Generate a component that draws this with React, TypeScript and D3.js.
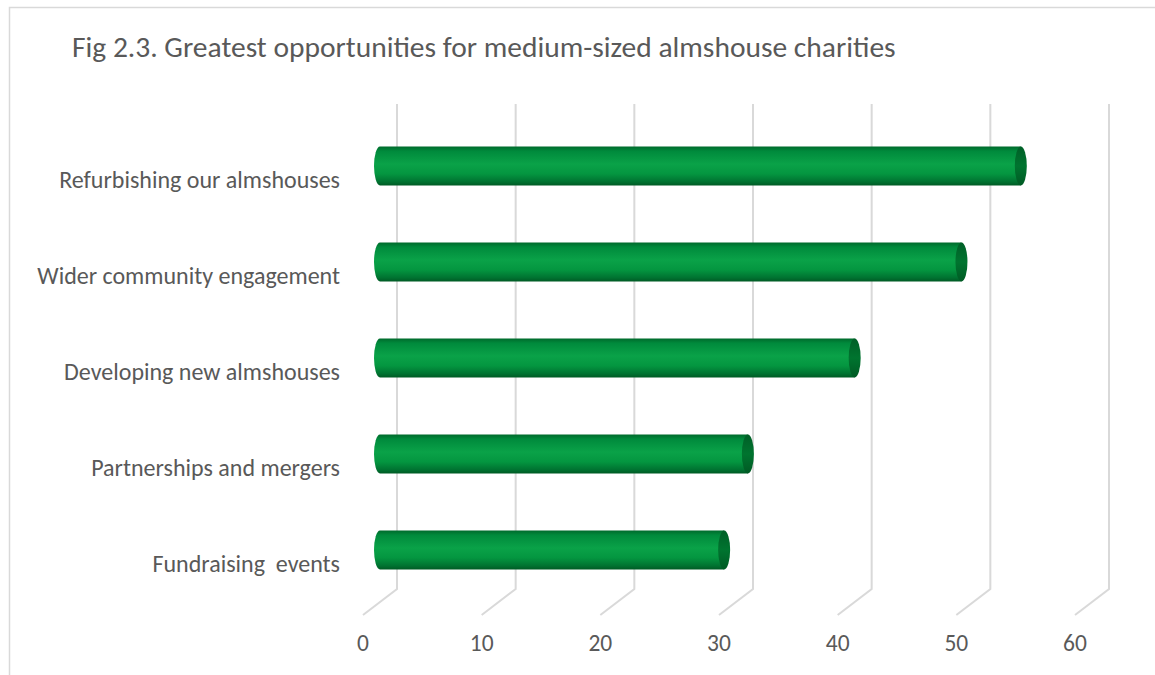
import React from "react";
import * as d3 from "d3";

const categories = [
  "Refurbishing our almshouses",
  "Wider community engagement",
  "Developing new almshouses",
  "Partnerships and mergers",
  "Fundraising  events",
];
const values = [54, 49, 40, 31, 29];
const ticks = [0, 10, 20, 30, 40, 50, 60];
const title = "Fig 2.3. Greatest opportunities for medium-sized almshouse charities";

const W = 1155;
const H = 675;
const FONT = "Carlito, Calibri, 'Open Sans', 'Liberation Sans', sans-serif";
const TEXT = "#595959";

export default function App() {
  // back plane x scale
  const x = d3.scaleLinear().domain([0, 60]).range([397, 1109]);
  const depthDx = -34;
  const depthDy = 26;
  const gridTop = 104;
  const gridBottom = 589;
  const y = d3.scaleBand().domain(categories).range([118, 598]).paddingInner(0.6).paddingOuter(0.3);
  const barH = 39;
  const rx = 6;
  const midDx = depthDx / 2;

  return (
    <svg
      width={W}
      height={H}
      style={{ position: "absolute", left: 0, top: 0, background: "#fff" }}
    >
      <defs>
        <linearGradient id="cyl" x1="0" y1="0" x2="0" y2="1">
          <stop offset="0" stopColor="#006a2c" />
          <stop offset="0.12" stopColor="#008a3c" />
          <stop offset="0.45" stopColor="#0aa248" />
          <stop offset="0.7" stopColor="#049640" />
          <stop offset="0.9" stopColor="#007331" />
          <stop offset="1" stopColor="#005a24" />
        </linearGradient>
        <linearGradient id="cap" x1="0" y1="0" x2="0" y2="1">
          <stop offset="0" stopColor="#005f27" />
          <stop offset="0.5" stopColor="#00742f" />
          <stop offset="1" stopColor="#005a24" />
        </linearGradient>
      </defs>
      <rect x={9.5} y={7.5} width={1200} height={700} fill="#fff" stroke="#d9d9d9" strokeWidth={1.5} />
      <text x={72} y={57} fill={TEXT} fontFamily={FONT} fontSize={29.5}>
        {title}
      </text>
      {/* gridlines */}
      {ticks.map((t) => (
        <path
          key={"g" + t}
          d={`M${x(t)},${gridTop} L${x(t)},${gridBottom} L${x(t) + depthDx},${gridBottom + depthDy}`}
          fill="none"
          stroke="#d9d9d9"
          strokeWidth={2}
        />
      ))}
      {/* tick labels */}
      {ticks.map((t) => (
        <text
          key={"t" + t}
          x={x(t) + depthDx}
          y={651}
          textAnchor="middle"
          fill={TEXT}
          fontFamily={FONT}
          fontSize={23.5}
        >
          {t}
        </text>
      ))}
      {/* bars */}
      {categories.map((c, i) => {
        const cy = (y(c) as number) + y.bandwidth() / 2;
        const x0 = x(0) + midDx;
        const x1 = x(values[i]) + midDx;
        const top = cy - barH / 2;
        const bot = cy + barH / 2;
        return (
          <g key={c}>
            <path
              d={`M${x0},${top} L${x1},${top} L${x1},${bot} L${x0},${bot} A${rx},${barH / 2} 0 0 1 ${x0},${top} Z`}
              fill="url(#cyl)"
            />
            <ellipse cx={x1} cy={cy} rx={rx} ry={barH / 2} fill="url(#cap)" />
            <text
              x={340}
              y={cy + 22}
              textAnchor="end"
              fill={TEXT}
              fontFamily={FONT}
              fontSize={24}
              style={{ whiteSpace: "pre" }}
            >
              {c}
            </text>
          </g>
        );
      })}
    </svg>
  );
}
